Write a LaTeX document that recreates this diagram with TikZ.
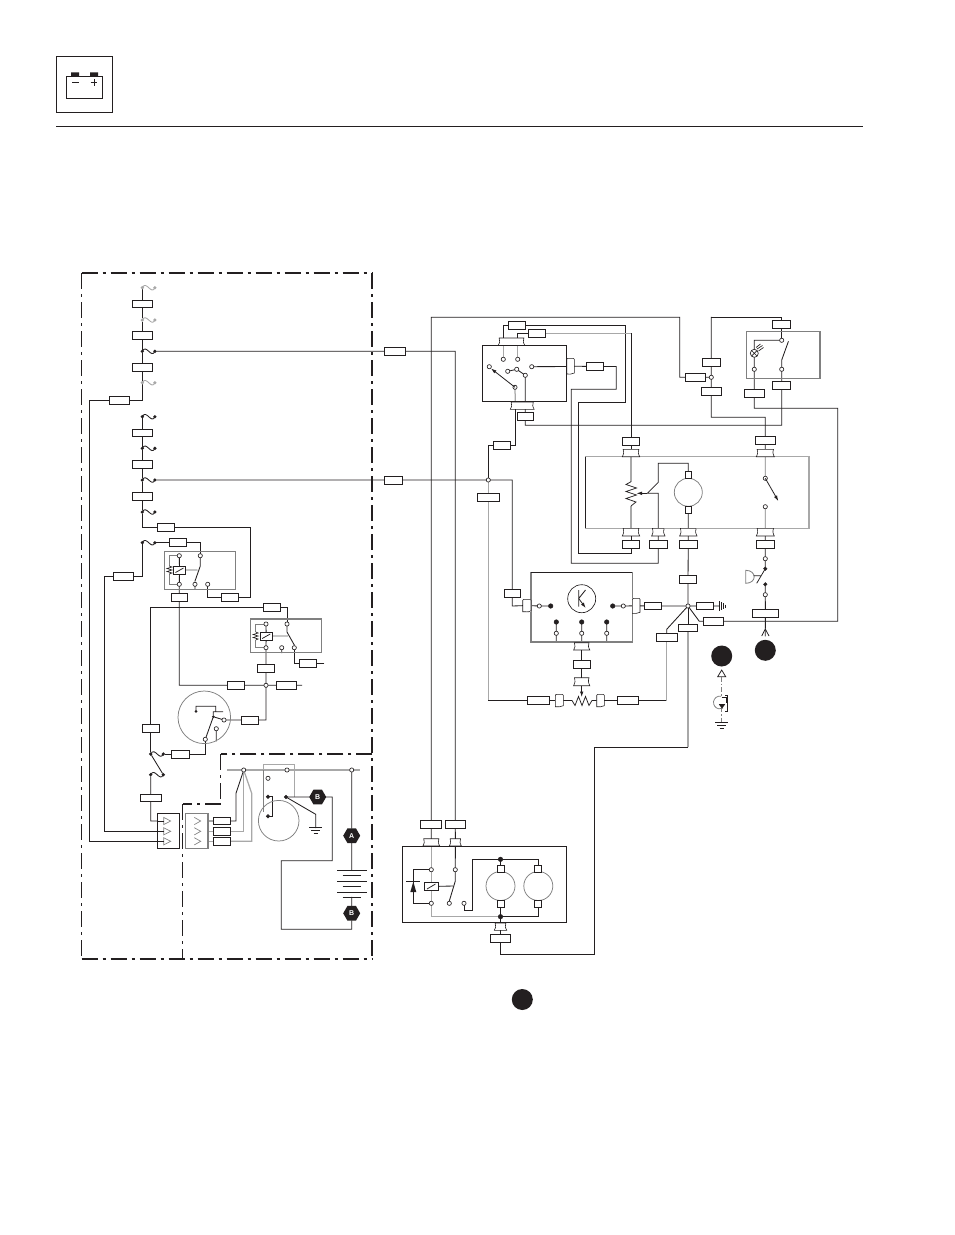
\documentclass[tikz,border=0pt]{standalone}
\usepackage{fontspec}
\setmainfont{Liberation Sans}
\usetikzlibrary{shapes.geometric,backgrounds,arrows.meta}
\definecolor{ink}{HTML}{231F20}
\definecolor{gry}{HTML}{A8A8A8}
\definecolor{dgr}{HTML}{808080}
\tikzset{
  x=1pt,y=-1pt,
  w/.style={draw=ink,line width=0.85pt,line cap=rect,line join=miter},
  wg/.style={draw=gry,line width=1.25pt},
  wd/.style={draw=dgr,line width=0.85pt},
  thinw/.style={draw=ink,line width=0.55pt},
  box/.style={draw=ink,fill=white,line width=0.85pt,inner sep=0pt,outer sep=0pt},
  conn/.style={fill=white,inner sep=0pt,outer sep=0pt},
  connline/.style={draw=ink,line width=0.6pt},
  mod/.style={draw=dgr,line width=1.05pt,inner sep=0pt,outer sep=0pt},
  modk/.style={draw=ink,line width=0.85pt,inner sep=0pt,outer sep=0pt},
  pinopen/.style={circle,draw=ink,fill=white,line width=0.65pt,minimum size=4.2pt,inner sep=0pt,outer sep=0pt},
  pinfull/.style={circle,draw=ink,fill=ink,minimum size=3.6pt,inner sep=0pt,outer sep=0pt},
  pinbig/.style={circle,draw=ink,fill=ink,minimum size=4.6pt,inner sep=0pt,outer sep=0pt},
  bigdot/.style={circle,fill=ink,minimum size=21pt,inner sep=0pt},
  hexa/.style={regular polygon,regular polygon sides=6,fill=ink,text=white,minimum size=17pt,inner sep=0pt,font=\fontsize{7}{7}\selectfont\bfseries},
  motor/.style={circle,draw=dgr,fill=white,line width=0.75pt,inner sep=0pt,outer sep=0pt},
  frame/.style={draw=ink,line width=2pt,dash pattern=on 16pt off 5pt on 3pt off 5pt},
  framem/.style={draw=ink,line width=1.6pt,dash pattern=on 16pt off 5pt on 3pt off 5pt},
  framet/.style={draw=ink,line width=0.85pt,dash pattern=on 16pt off 5pt on 3pt off 5pt},
  arr/.style={draw=ink,line width=0.8pt,-{Latex[length=5.5pt,width=3.6pt]}},
}
\newcommand\bx[5]{\pgfmathsetmacro\bxc{(#2+#4)/2}\pgfmathsetmacro\byc{(#3+#5)/2}\pgfmathsetmacro\bxw{#4-#2}\pgfmathsetmacro\bxh{#5-#3}%
  \node[box,minimum width=\bxw pt,minimum height=\bxh pt] (#1) at (\bxc,\byc) {};}
% connector, wide: nearly a rectangle, sides slightly pinched, corners slightly flared
\newcommand\cn[5]{\pgfmathsetmacro\bxc{(#2+#4)/2}\pgfmathsetmacro\byc{(#3+#5)/2}\pgfmathsetmacro\bxw{#4-#2}\pgfmathsetmacro\bxh{#5-#3}%
  \node[conn,minimum width=\bxw pt,minimum height=\bxh pt] (#1) at (\bxc,\byc) {};
  \pgfmathsetmacro\cxa{#2+0.4}\pgfmathsetmacro\cxb{#4-0.4}\pgfmathsetmacro\cxc{#2+1.3}\pgfmathsetmacro\cxd{#4-1.3}\pgfmathsetmacro\cxe{#2-0.4}\pgfmathsetmacro\cxf{#4+0.4}%
  \draw[connline] (\cxa,#3)--(\cxb,#3) .. controls (\cxd,\byc) .. (\cxf,#5) -- (\cxe,#5) .. controls (\cxc,\byc) .. (\cxa,#3) -- cycle;}
% connector, tall: rounded, wavy at the bottom
\newcommand\cv[5]{\pgfmathsetmacro\bxc{(#2+#4)/2}\pgfmathsetmacro\byc{(#3+#5)/2}\pgfmathsetmacro\bxw{#4-#2}\pgfmathsetmacro\bxh{#5-#3}%
  \node[conn,minimum width=\bxw pt,minimum height=\bxh pt] (#1) at (\bxc,\byc) {};
  \pgfmathsetmacro\cxa{#2+1}\pgfmathsetmacro\cxb{#4-1}\pgfmathsetmacro\cya{#3+1}\pgfmathsetmacro\cyb{#5-1}\pgfmathsetmacro\cyc{#5+1.4}\pgfmathsetmacro\cyd{#5-0.8}\pgfmathsetmacro\cxc{#2+2.5}\pgfmathsetmacro\cxd{#4-2.5}%
  \draw[connline] (#2,\cya)--(\cxa,#3)--(\cxb,#3)--(#4,\cya)--(#4,\cyb) .. controls (\cxd,\cyc) and (\cxc,\cyd) .. (#2,#5) -- cycle;}
\newcommand\md[6][mod]{\pgfmathsetmacro\bxc{(#3+#5)/2}\pgfmathsetmacro\byc{(#4+#6)/2}\pgfmathsetmacro\bxw{#5-#3}\pgfmathsetmacro\bxh{#6-#4}%
  \node[#1,minimum width=\bxw pt,minimum height=\bxh pt] (#2) at (\bxc,\byc) {};}
\newcommand\po[3]{\node[pinopen] (#1) at (#2,#3) {};}
\newcommand\pf[3]{\node[pinfull] (#1) at (#2,#3) {};}
\newcommand\pb[3]{\node[pinbig] (#1) at (#2,#3) {};}
% fuse: name, x left, y, colour
\newcommand\fuse[4]{\pgfmathsetmacro\fxb{#2+12.6}\pgfmathsetmacro\fxm{#2+4}\pgfmathsetmacro\fxn{#2+9}\pgfmathsetmacro\fya{#3-8}\pgfmathsetmacro\fyb{#3+8}%
  \node[circle,fill=#4,minimum size=3.6pt,inner sep=0pt] (#1L) at (#2,#3) {};
  \node[circle,fill=#4,minimum size=3.6pt,inner sep=0pt] (#1R) at (\fxb,#3) {};
  \draw[#4,line width=0.85pt] (#1L.center) .. controls (\fxm,\fya) and (\fxn,\fyb) .. (#1R.center);}
\newcommand\gnd[2]{\pgfmathsetmacro\gxa{#1-6.5}\pgfmathsetmacro\gxb{#1+6.5}\pgfmathsetmacro\gxc{#1-4.5}\pgfmathsetmacro\gxd{#1+4.5}\pgfmathsetmacro\gxe{#1-2}\pgfmathsetmacro\gxf{#1+2}\pgfmathsetmacro\gya{#2+3}\pgfmathsetmacro\gyb{#2+6}%
  \draw[thinw] (\gxa,#2)--(\gxb,#2) (\gxc,\gya)--(\gxd,\gya) (\gxe,\gyb)--(\gxf,\gyb);}
\begin{document}
\begin{tikzpicture}
\useasboundingbox (0,0) rectangle (954,1235);
\begin{pgfonlayer}{background}
\fill[white] (0,0) rectangle (954,1235);
\end{pgfonlayer}
% header
\draw[ink,line width=0.85pt] (56.3,56.3) rectangle (112.7,112.7);
\fill[ink] (71,72.3) rectangle (79,76.5) (90,72.3) rectangle (98,76.5);
\draw[ink,line width=1.3pt] (66.6,76.5) rectangle (102.4,98.4);
\draw[ink,line width=0.85pt] (72.3,82.3)--(79,82.3) (90.7,82.3)--(97.3,82.3) (94,79)--(94,85.6);
\draw[ink,line width=1.1pt] (56,126.3)--(863,126.3);
% frames
\draw[frame] (81.5,273.3)--(372.3,273.3);
\draw[framet] (81.5,273.3)--(81.5,959);
\draw[frame] (372.3,273.3)--(372.3,959);
\draw[frame] (81.5,959)--(372.3,959);
\draw[framem] (372.3,754)--(220.5,754);
\draw[framet] (220.5,754)--(220.5,804);
\draw[framem] (220.5,804)--(182.5,804);
\draw[framet] (182.5,804)--(182.5,959);
% fuses
\fuse{fa}{142.3}{287.7}{gry}\fuse{fb}{142.3}{320}{gry}\fuse{fc}{142.3}{351.3}{ink}\fuse{fd}{142.3}{382.7}{gry}
\fuse{fe}{142.3}{416.7}{ink}\fuse{ff}{142.3}{448.3}{ink}\fuse{fg}{142.3}{480}{ink}\fuse{fh}{142.3}{512}{ink}\fuse{fi}{142.3}{542.7}{ink}
\fuse{fj}{150.7}{754}{ink}\fuse{fk}{150.7}{774.7}{ink}
% column boxes
\bx{b1}{132.3}{300.3}{152.3}{307.7}\bx{b2}{132.3}{331.3}{152.3}{339.7}\bx{b3}{132.3}{363.3}{152.3}{371.7}
\bx{b4}{109.3}{396.3}{129.7}{404.5}\bx{b5}{132.3}{429.3}{152.3}{436.7}\bx{b6}{132.3}{460.7}{152.3}{468.7}\bx{b7}{132.3}{492.7}{152.3}{500.3}
\bx{b8}{157.3}{523.3}{174.7}{531.5}\bx{b9}{169.3}{538.7}{186.7}{546.7}\bx{b10}{113.3}{572.5}{133.7}{580.9}
\bx{b11}{171.3}{593.3}{187.3}{601.3}\bx{b12}{221.3}{593.3}{238.7}{601.3}\bx{b13}{263.3}{603.7}{280.7}{611.7}
\bx{b14}{257.6}{664.3}{274.4}{672.7}\bx{b15}{299.3}{659.7}{316.7}{667.7}\bx{b16}{227.3}{681.3}{244.7}{689.3}\bx{b17}{276.3}{681.3}{296.7}{689.3}
\bx{b18}{241.3}{716}{258.7}{724}\bx{b19}{142.1}{724.3}{159.3}{732.3}\bx{b20}{171.3}{750}{189.7}{758}\bx{b21}{140.3}{794.3}{161.1}{801.7}
\bx{b22}{213.3}{817.3}{230.7}{824.7}\bx{b23}{213.3}{827.6}{230.7}{835}\bx{b24}{213.3}{837.6}{230.7}{845}
% relay 1
\md{rl1}{164.3}{551.3}{235.7}{589.3}
\po{r1a}{179.3}{555.7}\po{r1b}{179.3}{584.3}\po{r1c}{200.3}{555.7}\po{r1d}{195}{584.3}\po{r1e}{207.7}{584.3}
\md[box]{r1coil}{173.3}{566.3}{185.7}{574}
% relay 2
\md{rl2}{250.3}{619}{321.3}{652.7}
\po{r2a}{266}{624}\po{r2b}{266}{647.7}\po{r2c}{287}{624}\po{r2d}{281.7}{647.7}\po{r2e}{294.3}{647.7}
\md[box]{r2coil}{260}{632.3}{272.3}{640}
\po{n1}{266}{685.3}
% key switch
\node[motor,minimum size=52.6pt,fill=none] (key) at (204.3,717.3) {};
\node[circle,fill=ink,minimum size=3pt,inner sep=0pt] (k1) at (196,711.3) {};
\node[circle,fill=ink,minimum size=3pt,inner sep=0pt] (k2) at (213.3,716.7) {};
\po{k3}{224}{720}\po{k4}{205.3}{739.3}\po{k5}{216.3}{728.7}
% triangle boxes
\md[box]{tb1}{157.3}{813.3}{179.7}{848.7}
\md[mod]{tb2}{185.3}{813.3}{208}{848.7}
\foreach \y in {821,831.3,841.3}{
 \draw[dgr,line width=0.65pt] (163.7,\y-3.6)--(170.7,\y)--(163.7,\y+3.6)--cycle;
 \draw[dgr,line width=0.65pt] (194.3,\y-3.6)--(200.7,\y)--(194.3,\y+3.6);
 \draw[ink,line width=0.65pt] (157.3,\y)--(163.7,\y);
}
% alternator and battery
\po{bu1}{243.7}{770}\po{bu2}{287}{770}\po{bu3}{351.7}{770}\po{a1}{268}{778.3}
\pf{a2}{268}{796.7}\pf{a3}{268}{816.3}\pf{a4}{286}{797}
\node[motor,minimum size=40.6pt,fill=none] (alt) at (278.7,820.7) {};
\node[hexa] (hb1) at (317.7,797) {B};
\node[hexa] (ha) at (351.7,835.7) {A};
\node[hexa] (hb2) at (351.7,913.3) {B};
\coordinate (batt1) at (351.7,870.3);
\coordinate (batt2) at (351.7,897.3);
\draw[ink,line width=0.75pt] (337,870.3)--(366.7,870.3) (342.7,875.7)--(361,875.7) (337,881.3)--(366.7,881.3) (342.7,886.7)--(361,886.7) (337,892.3)--(366.7,892.3) (342.7,897.3)--(361,897.3);
\gnd{315.7}{827.7}
% wires-through boxes, right of frame
\bx{ba}{384}{347.3}{405}{355.3}\bx{bb}{384}{476}{402}{484}
\bx{ll1}{420.9}{820.3}{441.7}{828.7}\bx{ll2}{445.3}{820.3}{465.3}{828.7}
\cn{lc1}{423.3}{838.7}{439.3}{846}\cn{lc2}{449.7}{838.7}{461}{846}
% top switch module
\md[modk]{sw}{482.3}{345.3}{566.7}{401.3}
\cn{swt}{498.7}{338}{524.3}{345.3}\cn{swb}{510.7}{402}{533.7}{409.3}\cv{swr}{566.7}{358.3}{574.3}{374}
\po{s1}{503.3}{359.3}\po{s2}{517.7}{359.3}\po{s3}{489.3}{366.7}\po{s4}{515}{387.3}\po{s5}{507.7}{371.3}\po{s6}{516.7}{369.3}\po{s7}{525.3}{375.3}\po{s8}{531.7}{366.7}
\bx{st1}{508.3}{321.3}{525.7}{329.7}\bx{st2}{528.3}{329.3}{545.7}{337.7}\bx{sr}{586.3}{362.3}{603.7}{370.7}
\bx{sb}{517.3}{412}{533.3}{420.3}\bx{sc}{493.3}{441.3}{510.7}{449.3}
\po{j2}{488.3}{480}\bx{sd}{477.3}{493.3}{499.3}{501.7}
% right top
\bx{rj}{685.3}{373.3}{705.3}{381.3}\po{j1}{711.3}{377.3}\bx{rj1}{702.3}{358}{720.3}{366}\bx{rj2}{701}{387.3}{721.6}{395.7}
\md{lampm}{746.7}{331.7}{820}{378.3}
\bx{lt}{772.7}{320}{790.7}{328.7}\po{lp1}{781.7}{340.3}\po{lp2}{781.7}{369.3}\po{lp3}{754.3}{369.3}
\node[circle,draw=ink,fill=white,line width=0.65pt,minimum size=8pt,inner sep=0pt,outer sep=0pt] (lamp) at (754.3,353.3) {};
\draw[ink,line width=0.55pt] (751.6,350.6)--(757,356) (757,350.6)--(751.6,356);
\draw[ink,line width=0.65pt] (757,349)--(762.5,345.5) (758.5,351)--(763.5,347.5) (756,347.5)--(760.5,344);
\bx{lb1}{744.3}{389.3}{764.3}{397.3}\bx{lb2}{772.7}{381.3}{790.7}{389.7}
% big module
\md[mod,draw=gry,line width=1.25pt]{big}{585.7}{456.7}{809}{528.3}
\draw[ink,line width=0.85pt] (585.7,456.7)--(585.7,528.3);
\bx{g1t}{622.3}{437}{639.7}{445.3}\cn{g1c}{622.7}{449.3}{639.3}{456.7}
\bx{g4t}{755.3}{436.3}{775.3}{444.7}\cn{g4c}{756.7}{449.3}{773.9}{456.7}
\cn{g1d}{622.7}{528.3}{639.3}{536}\cn{g2d}{652}{528.3}{664.6}{536}\cn{g3d}{680}{528.3}{696.6}{536}\cn{g4d}{756.7}{528.3}{773.9}{536}
\bx{g1b}{622.3}{540.3}{639.7}{548.7}\bx{g2b}{649.3}{540.3}{667.3}{548.7}\bx{g3b}{679.3}{540.3}{697.3}{548.7}\bx{g4b}{756.3}{540.3}{774.3}{548.7}
\node[motor,minimum size=28pt] (m1) at (688.3,492.3) {};
\md[box]{m1t}{685}{471.3}{691.6}{478.3}\md[box]{m1b}{685}{506.7}{691.6}{513.3}
\po{g5}{765.3}{478.3}\po{g6}{765.3}{506.7}
% horn
\po{h1}{765.3}{558.7}\pf{h2}{765.3}{568.7}\pf{h3}{765.3}{584.3}\po{h4}{765.3}{594.7}
\bx{hb}{752.7}{609.3}{778}{617.3}
\draw[dgr,line width=0.85pt] (745.7,570.3) .. controls (757,570.3) and (757,583.3) .. (745.7,583.3) -- cycle;
\draw[ink,line width=0.75pt] (765.3,568.7)--(756.7,583.3) (753.5,575.7)--(760.7,575.7);
\draw[ink,line width=0.75pt] (761.7,636)--(765.3,629)--(769,636);
% electronics module
\md{em}{531}{572.3}{632.3}{642}
\draw[ink,line width=0.9pt] (531,572.3)--(632.3,572.3);
\cv{ecl}{522.7}{599.3}{531}{611.7}\cv{ecr}{632.3}{598.3}{640}{613.3}
\cn{ecb}{574}{642.7}{589.4}{650}\bx{eb}{573.3}{660.3}{590.1}{668.7}\cn{ec2}{574}{677.7}{589.4}{685.7}
\bx{el}{504}{589.3}{520.6}{597.7}\bx{er}{644.3}{602.3}{661.7}{609.7}
\node[circle,draw=ink,fill=white,line width=0.65pt,minimum size=28pt,inner sep=0pt,outer sep=0pt] (tr) at (581.7,598.7) {};
\draw[ink,line width=0.85pt] (578.7,590)--(578.7,606.7) (578.7,598.5)--(585.5,590);
\draw[arr] (578.7,598.5)--(585.7,608);
\po{e1}{539.3}{606}\pb{e2}{550.7}{606}\pb{e3}{612.7}{606}\po{e4}{623.3}{606}
\pb{e5}{556.3}{622}\po{e6}{556.3}{633.3}\pb{e7}{581.7}{622}\po{e8}{581.7}{633.3}\pb{e9}{606.7}{622}\po{e10}{606.7}{633.3}
% potentiometer row
\bx{p1}{527.3}{696.3}{549}{704.7}\cv{pc1}{555.3}{694.3}{563.3}{706.7}\cv{pc2}{596.7}{694.3}{604.3}{706.7}\bx{p2}{617.3}{696.3}{638}{704.7}
\bx{q1}{656.3}{633.7}{677.1}{641.7}
% star
\po{star}{688}{606}
\bx{st}{679.3}{575}{696.7}{583.7}\bx{sq}{678.3}{624}{697.7}{631.7}\bx{sg}{696.3}{602.3}{713.7}{609.7}\bx{sh}{703.3}{617.3}{723.7}{625.3}
\draw[gry,line width=1.25pt] (713.7,606)--(718.7,606);
\draw[ink,line width=0.6pt] (719.3,601)--(719.3,611) (721.5,602)--(721.5,610) (723.6,603)--(723.6,609) (725.6,604.5)--(725.6,607.5);
% big dots
\node[bigdot] (d1) at (721.7,656) {};
\node[bigdot] (d2) at (765.3,650.3) {};
\node[bigdot] (d3) at (522.3,999.5) {};
% sensor
\draw[ink,line width=0.75pt] (717.7,676.7)--(721.7,670)--(725.7,676.7)--cycle;
\draw[dgr,line width=0.7pt,dash pattern=on 5pt off 2pt on 1.5pt off 2pt] (721.7,676.7)--(721.7,696.5);
\draw[dgr,line width=0.7pt,dash pattern=on 4pt off 2pt on 1.5pt off 2pt] (721.7,708)--(721.7,722);
\draw[dgr,line width=0.75pt] (721,696.2) arc[start angle=-80,end angle=-300,radius=6.4];
\draw[ink,line width=0.75pt] (721.7,697.5)--(726,697.5)--(726,703);
\fill[ink] (722,708.6)--(718.8,704.2)--(725.2,704.2)--cycle;
\draw[ink,line width=0.65pt] (725.3,695)--(727.3,695)--(727.3,711.7)--(725.3,711.7);
\gnd{721.7}{722.3}
% lower motor module
\md[modk]{lm}{402.3}{846.3}{566.7}{922.3}
\po{l1}{431.3}{869.7}\po{l2}{431.3}{903.3}\po{l3}{455.3}{869.7}\po{l4}{449.3}{903.3}\po{l5}{464}{903.3}
\md[box]{lcoil}{424.3}{882.3}{438.3}{890.7}
\pb{l6}{500.5}{859.3}\pb{l7}{500.5}{916.7}
\node[motor,minimum size=29pt] (m2) at (500.5,886) {};
\node[motor,minimum size=29pt] (m3) at (538.3,886) {};
\md[box]{m2t}{497}{865.3}{504}{872.3}\md[box]{m2b}{497}{900.3}{504}{907.3}
\md[box]{m3t}{534.8}{865.3}{541.8}{872.3}\md[box]{m3b}{534.8}{900.3}{541.8}{907.3}
\cn{lc3}{494.7}{923}{506.3}{930.3}\bx{lb}{490.2}{934.3}{510.8}{942.7}
\fill[ink] (413.3,881.7)--(410.3,892)--(416.3,892)--cycle;
\draw[ink,line width=0.75pt] (406,881.7)--(420,881.7);
\draw[ink,line width=0.75pt] (427,889)--(435.5,884) (175.5,572.5)--(183.5,568) (262.2,638.5)--(270.2,634);
% wires
\begin{pgfonlayer}{background}
% column
\draw[w] (faL)--(b1)--(fbL)--(b2)--(fcL)--(b3)--(fdL);
\draw[w] (fdL) -- (142.3,400.4) -- (b4) -- (89.3,400.4) -- (89.3,841.3) -- (157.3,841.3);
\draw[w] (feL)--(b5)--(ffL)--(b6)--(fgL)--(b7)--(fhL)--(142.3,527.4)--(b8)--(250.3,527.4)--(250.3,597.3)--(b12)--(207.7,597.3)--(r1e);
\draw[w] (fiL)--(142.3,576.7)--(b10)--(104.3,576.7)--(104.3,831.3)--(157.3,831.3);
\draw[w] (fiR)--(b9)--(200.3,542.7)--(r1c);
\draw[w] (fcR)--(ba)--(455.3,351.3)--(ll2)--(lc2);
\draw[w] (fgR)--(bb)--(j2)--(512.3,480)--(el)--(512.3,606)--(ecl);
% relay 1
\draw[w] (r1a)--(r1coil)--(r1b)--(b11)--(179.3,685.3)--(b16)--(n1)--(b17)--(301.7,685.3);
\draw[wd] (r1a)--(169.3,555.7)--(169.3,566) (169.3,574)--(169.3,584.3)--(r1b);
\draw[ink,line width=0.65pt] (169.3,566)--(172,567)--(167,568.5)--(172,570)--(167,571.5)--(172,573)--(169.3,574);
\draw[wg] (r1coil)--(197.5,570);
\draw[w] (r1c)--(200.3,566)--(195,581) (r1d)--(195,589.3);
% relay 2
\draw[w] (r2a)--(r2coil)--(r2b)--(b14)--(n1)--(266,720)--(b18)--(k3);
\draw[wd] (r2a)--(255.7,624)--(255.7,632) (255.7,640)--(255.7,647.7)--(r2b);
\draw[ink,line width=0.65pt] (255.7,632)--(258.2,633)--(253.2,634.5)--(258.2,636)--(253.2,637.5)--(258.2,639)--(255.7,640);
\draw[wg] (r2coil)--(288,636);
\draw[w] (r2c)--(287,632)--(294.3,645) (r2d)--(281.7,652.7);
\draw[w] (r2c)--(287,607.7)--(b13)--(150.7,607.7)--(b19)--(fjL);
\draw[w] (r2e)--(294.3,663.7)--(b15)--(324,663.7);
% key
\draw[w] (k1)--(196,706.3)--(215.7,706.3)--(215.7,711.7) (213.3,711.7)--(222.7,711.7) (213.3,711.7)--(k2)--(k4) (k2)--(k3) (k5)--(216.3,741);
\draw[w] (fjR)--(b20)--(205.3,754)--(k4);
\draw[w] (fjL)--(fkR) (fkL)--(b21)--(150.7,821)--(157.3,821);
% alternator lines
\draw[w] (221,821)--(236,821)--(236,793.3)--(bu1);
\draw[wg] (208,821)--(214,821) (208,831.3)--(214,831.3) (208,841.3)--(214,841.3);
\draw[wg] (230.7,831.3)--(243.7,831.3)--(bu1);
\draw[wg] (230.7,841.3)--(251.7,841.3)--(251.7,793.3)--(bu1);
\draw[wg] (227,770)--(360,770);
\draw[wg] (263.3,770)--(263.3,764.3)--(294.3,764.3)--(294.3,797);
\draw[wd] (263.3,770)--(263.3,812);
\draw[w] (a2)--(272.7,796.7)--(272.7,816.3)--(a3);
\draw[w] (a4)--(hb1)--(332.3,797)--(332.3,860.7)--(281.3,860.7)--(281.3,929.3)--(351.7,929.3)--(hb2);
\draw[w] (a4)--(315.7,814.3)--(315.7,827.7);
\draw[w] (bu3)--(ha)--(batt1) (batt2)--(hb2);
% top middle
\draw[w] (ll1)--(431.3,317.3)--(679.7,317.3)--(679.7,377.3)--(rj)--(j1);
\draw[w] (ll1)--(lc1);
\draw[w] (711.3,317.3)--(781.7,317.3)--(lt)--(lp1);
\draw[w] (711.3,317.3)--(rj1)--(j1)--(rj2)--(711.3,417.3)--(765.3,417.3)--(g4t)--(g4c);
% switch module
\draw[wg] (s1)--(503.3,340) (s2)--(517.7,340);
\draw[w] (503.3,340)--(503.3,325.5)--(st1)--(625.3,325.5)--(625.3,402.3)--(578.3,402.3)--(578.3,553.3)--(631,553.3)--(g1b)--(g1d);
\draw[w] (517.7,340)--(517.7,333.5)--(st2);
\draw[wg] (st2)--(631,333.5);
\draw[w] (631,333.5)--(g1t)--(g1c);
\draw[w] (s8)--(567,366.5) (swr)--(sr)--(616.3,366.5)--(616.3,389.3)--(571.3,389.3)--(571.3,563.3)--(658.3,563.3)--(g2b)--(g2d);
\draw[w] (s5)--(s6)--(s7);
\draw[w] (s7)--(525.3,403) (525.3,408)--(sb)--(525.3,425.3)--(781.7,425.3)--(lb2)--(lp2)--(781.7,360)--(788.3,341.7);
\draw[wg] (s4)--(515.3,403);
\draw[w] (515.3,408)--(515.3,445.3)--(sc)--(488.3,445.3)--(j2);
\draw[wg] (j2)--(sd)--(488.3,700.5);
\draw[w] (488.3,700.5)--(p1)--(pc1);
\draw[w] (pc2)--(p2)--(666.7,700.5);
\draw[wg] (666.7,700.5)--(q1);
\draw[w] (q1)--(666.7,629.3)--(star);
% lamp
\draw[w] (lp1)--(754.3,340.3)--(lamp)--(lp3)--(lb1)--(754.3,408.3)--(837.7,408.3)--(837.7,621.3)--(sh)--(699.3,621.3)--(star);
% big module inner
\draw[wg] (g1c)--(631,481.7) (631,506)--(g1d);
\draw[ink,line width=0.75pt] (631,481.7)--(626,484.5)--(636.5,488)--(626,491.5)--(636.5,495)--(626,498.5)--(636,502)--(631,506);
\draw[w] (658.3,528.3)--(658.3,493.3)--(647.3,493.3)--(658.3,482.3)--(658.3,463.3)--(688.3,463.3)--(m1t)--(m1)--(m1b)--(g3d)--(g3b);
\draw[wd] (g4c)--(g5) (g6)--(g4d);
\draw[w] (g4d)--(g4b)--(h1)--(h2) (h3)--(h4)--(hb)--(765.3,636);
% star
\draw[w] (g3b)--(st)--(star)--(er)--(ecr);
\draw[w] (star)--(sq);
\draw[wg] (sq)--(688,747);
\draw[wg] (star)--(sg);
\draw[w] (688,747)--(594.3,747)--(594.3,954.5)--(500.5,954.5)--(lb)--(lc3)--(500.5,922.3);
% electronics
\draw[w] (e1)--(e2) (e3)--(e4)--(ecr) (ecl)--(e1) (e5)--(e6)--(556.3,642) (e7)--(e8)--(581.7,642) (e9)--(e10)--(606.7,642);
\draw[w] (ecb)--(eb)--(ec2);
% lower module
\draw[wg] (lc1)--(l1)--(lcoil)--(l2)--(431.3,916.7)--(538.3,916.7);
\draw[w] (500.5,916.7)--(538.3,916.7)--(m3b);
\draw[w] (l1)--(413.3,869.7)--(413.3,903.3)--(l2);
\draw[w] (lc2)--(l3)--(455.3,881)--(449.3,901);
\draw[w] (lcoil)--(453,886);
\draw[w] (l5)--(464,910.3)--(472.3,910.3)--(472.3,859.3)--(538.3,859.3)--(m3t);
\draw[w] (l6)--(m2t) (m2b)--(l7)--(lc3);
\draw[wd] (m2)--(m2t) (m2)--(m2b) (m3)--(m3t) (m3)--(m3b);
\end{pgfonlayer}
% arrows and pot over the wires
\draw[arr] (515,387.3)--(491,368.5);
\draw[arr] (647.3,493.3)--(636.5,493.3);
\draw[arr] (765.3,478.3)--(778.3,501);
\draw[arr] (581.7,685.7)--(581.7,697);
\draw[ink,line width=0.75pt] (563.3,700.5)--(572,700.5)--(575,705.5)--(578.5,696.5)--(582,705.5)--(585.5,696.5)--(589,705.5)--(592,700.5)--(596.7,700.5);
\end{tikzpicture}
\end{document}
